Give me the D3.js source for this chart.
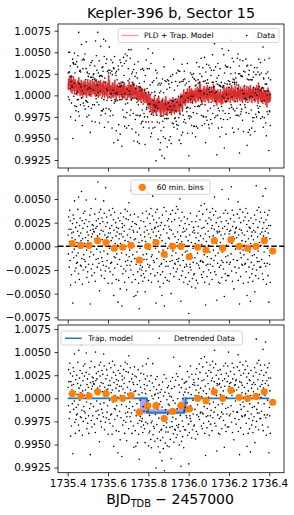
<!DOCTYPE html>
<html><head><meta charset="utf-8">
<script src="https://cdn.jsdelivr.net/npm/d3@7"></script>
<style>body{margin:0;background:#fff}svg{display:block}text{font-family:"DejaVu Sans",sans-serif;fill:#000}</style>
</head><body><svg id="c" width="294" height="515"></svg>
<script>
// ---- data (fluxes in units of 1e-4) ----
const t0 = 1735.402;          // first exposure (BJD_TDB - 2457000)
const cadenceDays = 2 / 1440; // 2-minute cadence
const residE4 = [
12,-8,31,18,-22,5,38,-15,27,-41,18,3,-30,14,9,-6,24,-60,33,15,-12,29,-3,48,-26,7,-38,20,-23,-10,
-18,25,4,-17,16,39,-7,-29,52,11,-35,22,-2,30,-20,14,6,-21,58,-13,27,-40,8,19,-25,35,-9,-14,24,3,
37,-16,9,-22,28,49,-4,-33,15,21,-27,6,12,-19,-38,26,2,-11,33,-61,17,-6,40,-24,10,-31,23,13,-19,18,
22,-9,16,15,-28,34,8,-37,50,19,-14,27,-3,21,-22,11,68,-13,29,4,-18,36,-47,13,24,-6,39,-25,17,-31,
-12,30,7,-16,26,16,-20,48,-5,35,-34,12,2,-26,62,21,-21,9,31,-15,25,-8,10,-39,14,5,-23,38,-2,19,
-27,14,-18,33,6,-17,22,-39,9,40,-30,-4,28,-52,17,-11,36,-23,3,-12,25,11,-35,20,-8,15,-19,1,-59,30,
19,-36,8,13,-14,27,-45,3,35,-21,13,-7,-63,24,20,-29,10,-3,31,-24,16,22,-38,6,39,-16,-26,29,-9,-46,
-20,37,12,-15,5,28,-33,46,-11,18,-4,-20,33,9,-25,59,-16,21,-38,2,26,-9,17,-30,15,-53,7,34,-13,24,
-35,8,-52,-19,23,-16,-6,15,-48,-27,31,-12,-39,4,-66,19,-24,-2,-20,12,27,-31,-17,-25,6,-22,35,-37,-9,-29,
26,-14,15,-33,10,-48,21,5,-26,37,-8,-14,17,30,-19,2,57,-36,13,-22,34,-3,-20,24,9,-29,40,-11,-38,18,
-9,32,53,-24,15,-15,28,7,-17,19,-31,20,-2,36,-60,11,25,-13,39,-28,4,21,-37,16,-6,30,-21,9,-43,22,
-30,12,-19,25,-18,-52,6,33,-27,-4,-39,18,-14,41,-63,-8,22,-33,3,-21,37,-16,-11,14,-36,27,-2,-21,9,29,
21,-37,8,18,-16,-29,34,3,-50,17,26,-10,-15,38,-5,13,-23,60,-32,1,28,-18,10,-19,35,-7,-27,42,-14,4,
-24,15,39,-16,7,-13,30,-35,22,50,-20,-3,11,-58,27,-31,5,36,-9,-26,15,-15,19,-38,2,31,-22,16,24,-6,
-33,10,-19,18,-21,-5,29,-40,-14,6,-28,-71,23,-37,12,-19,-22,35,-8,-25,4,-43,26,-12,-34,15,-2,-17,20,-30,
17,-29,14,-12,3,-44,26,9,-36,32,-18,62,-7,-39,14,21,-20,6,37,-23,-1,28,-16,11,-15,43,-30,2,19,-33,
-16,34,-17,8,-27,20,-9,45,-38,-3,13,-62,27,-20,5,39,-32,-11,24,-19,16,1,-25,30,-40,10,-6,36,-19,-28,
28,-13,19,6,-35,22,40,-21,11,-4,33,-15,18,52,-27,9,-10,37,-30,25,3,-57,16,14,-18,30,-7,-38,21,15,
-22,16,-39,31,4,-20,12,26,-15,-33,60,-6,19,-17,8,-24,35,-2,-53,21,13,-29,38,-11,-36,27,1,-17,18,-31,
35,-10,24,50,-31,13,-19,16,6,-17,29,17,-8,63,-26,3,38,-37,21,10,-14,33,-45,26,8,14,-22,15,-3,19,
-28,20,9,-15,34,-15,2,47,-36,12,-23,30,-61,18,39,-7,-32,25,-12,17,-19,6,14,-20,36,-4,-39,27,-9,1,
12,-19,31,-18,5,40,-27,-3,23,-52,16,35,-14,-38,8,27,-22,20,-33,-6,19,-58,3,30,-17,11,-29,15,-10,-24,
-37,24,7,17,-20,-9,33,-48,15,2,-31,28,64,-25,-12,38,-16,10,20,-5,-34,41,-16,4,26,-22,13,36,-22,1,
30,-14,15,8,-29,19,53,-35,11,25,-6,-18,36,3,16,61,-21,28,-40,9,19,-18,-2,33,-31,14,22,-59,38,-10,
-19,8,-38,22];
const pldE4 = [
14,6,19,9,17,22,12,23,7,16,4,13,21,8,2,15,18,10,5,22,11,7,17,1,14,19,9,16,5,12,
5,14,0,12,17,7,2,10,21,3,11,6,15,-1,9,13,4,18,1,10,14,5,-3,12,16,7,11,2,17,8,
11,0,9,16,3,13,-3,8,12,5,19,1,10,6,15,-1,7,12,2,18,4,14,-2,9,11,1,17,5,8,3,
2,15,9,4,17,0,11,6,13,-2,10,19,3,8,14,1,5,16,-3,12,7,4,15,9,-1,11,18,2,6,13,
9,2,15,-2,7,12,4,17,0,10,-3,8,13,5,1,16,6,-1,11,9,3,14,-4,8,12,24,7,18,0,10,
3,12,0,8,-4,11,6,1,15,-2,7,10,4,-3,14,2,9,18,-1,5,1,12,-6,8,11,3,13,0,7,4,
11,2,6,-3,9,14,0,7,3,16,-2,8,4,10,-5,12,5,1,13,-1,7,15,2,-4,9,6,0,11,4,8,
0,9,-5,6,12,3,-2,7,16,1,5,-3,10,2,8,-6,11,4,-1,13,1,6,-4,9,15,0,5,2,10,-2,
7,0,9,-4,3,12,-2,5,-6,4,8,1,-7,6,10,-5,0,11,-3,-7,3,-2,9,-6,1,5,-4,7,-1,-8,
3,-7,1,8,-4,-9,2,-2,-5,4,-8,0,-9,1,-6,-12,-3,5,-10,-16,-3,-7,1,-12,-8,-19,-3,-11,-6,-15,
-22,-17,-4,-14,-21,-8,-11,-18,-1,-15,-6,-20,-12,-7,-16,-23,-5,-10,-13,-3,-19,-9,-14,-17,-2,-16,-11,-6,-20,-10,
-25,-7,-22,-11,-6,-18,-12,-14,-3,-20,-9,-15,-23,-8,-10,-19,-5,-17,-13,-1,-21,-11,-16,-7,-24,-9,-14,-6,-18,-12,
-8,-15,-21,-9,-4,-19,-12,-16,-6,-23,-11,-7,-17,-14,-2,-20,-10,-18,-5,-13,-22,-9,-15,-7,-19,-11,-3,-16,-20,-12,
-15,-4,-10,-19,-8,-13,-2,-17,-7,-22,-2,-8,-13,2,-11,-15,-6,0,-9,-17,1,-8,-1,7,-10,-3,-6,3,-12,0,
1,-7,4,-4,2,-9,8,-4,0,-9,4,1,-7,10,-2,-5,7,-9,3,0,-5,8,-2,4,-10,6,1,-3,5,-6,
2,-7,5,-1,8,-4,-9,3,0,6,-3,10,-6,1,4,-7,8,-1,-4,10,16,-3,13,-6,4,0,7,-9,3,-2,
6,-2,-7,8,2,-4,11,-1,5,-8,4,7,0,-5,9,-3,3,12,-6,1,-2,6,-9,5,2,-1,10,-4,4,0,
-5,5,10,-2,2,-7,7,0,4,13,-4,3,-8,8,1,-6,3,-4,6,-9,1,-12,4,-1,-5,7,-8,0,2,-3,
4,-5,-9,0,7,-7,-2,-11,2,-4,-6,5,-10,-1,3,-4,12,-1,-8,5,1,8,-3,4,-9,6,0,10,-5,3,
-2,6,-7,2,10,-4,4,0,7,-9,3,8,-3,1,12,-5,5,-1,-6,9,-2,6,2,-8,7,-1,4,11,-4,1,
5,-5,3,0,9,-8,6,1,-3,13,-1,4,-6,7,2,-4,10,-2,-7,5,3,0,8,-9,4,6,-3,1,11,-5,
-1,8,-4,4,-8,2,7,-2,11,-6,3,0,6,-5,10,-3,1,9,-7,4,-1,12,-4,5,0,7,-9,3,8,-2,
7,-3,2,10,-6,4,-1,6,-8,1,9,-4,3,0,12,-6,4,-3,7,-10,15,1,-4,6,-2,9,-7,2,-5,4,
-4,7,-7,1,4,-10,3,-2,9,-6,0,-8,5,2,-3,6,-11,-3,-7,4,-14,-1,2,-6,9,-9,-2,-5,5,-8,
0,-7,3,-4];
// trapezoid transit model
const trapT = [1735.40, 1735.792, 1735.800, 1735.978, 1735.986, 1736.40];
const trapF = [1.0, 1.0, 0.99845, 0.99845, 1.0, 1.0];
// model uncertainty band
const bandT  = [1735.7585, 1735.796, 1735.808, 1735.957, 1735.970, 1735.993];
const bandHi = [1.00017, 1.00017, 0.99881, 0.99881, 1.00017, 1.00017];
const bandLo = [0.99840, 0.99827, 0.99827, 0.99827, 0.99827, 0.99840];
// 60-minute bins
const binT = [1735.4228,1735.4645,1735.5057,1735.5488,1735.5899,1735.6310,1735.6727,1735.7138,1735.7550,1735.7966,1735.8378,1735.8790,1735.9206,1735.9618,1736.0030,1736.0446,1736.0858,1736.1270,1736.1686,1736.2097,1736.2509,1736.2926,1736.3338,1736.3750,1736.4167];
const binResid = [0.0003,0.0001,0.0001,0.0006,0.0004,-0.0002,-0.0001,0.0001,-0.00145,0.0,0.0004,-0.00085,0.0,0.0,-0.0011,-0.0001,-0.0004,0.0006,-0.0002,0.0007,0.0,-0.0002,0.0,0.0006,-0.0005];
const binDetr = [1.0005,1.00025,1.00025,1.0007,1.0005,0.99995,1.0,1.0003,0.99848,0.99917,0.9992,0.9978,0.9986,0.9992,0.99884,1.0,0.99974,1.0007,1.0,1.00086,1.0001,1.0,1.0002,1.0007,0.99957];
// ticks
const xTicks = [1735.4,1735.6,1735.8,1736.0,1736.2,1736.4];
const fluxTicks = [1.0075,1.0050,1.0025,1.0000,0.9975,0.9950,0.9925];
const residTicks = [0.0050,0.0025,0.0000,-0.0025,-0.0050,-0.0075];

// ---- derived series ----
const times = residE4.map((_, i) => t0 + i * cadenceDays);
const resid = residE4.map(v => v * 1e-4);
const model = pldE4.map(v => 1 + v * 1e-4);
const flux = model.map((m, i) => m + resid[i]);
const trap = d3.scaleLinear().domain(trapT).range(trapF);
const detr = times.map((t, i) => trap(t) + resid[i]);

// ---- layout ----
const svg = d3.select('#c');
const L = 58, R = 284;
const x = d3.scaleLinear().domain([1735.3519, 1736.4729]).range([L, R]);
const panels = [
  {top: 24, bot: 168, y: d3.scaleLinear().domain([0.991572, 1.008277]).range([168, 24]), ticks: fluxTicks},
  {top: 176, bot: 320, y: d3.scaleLinear().domain([-0.007785, 0.007430]).range([320, 176]), ticks: residTicks},
  {top: 325, bot: 472.7, y: d3.scaleLinear().domain([0.991946, 1.007933]).range([472.7, 325]), ticks: fluxTicks}
];
const fmt = d3.format('.4f');
panels.forEach((p, k) => {
  svg.append('clipPath').attr('id', 'clip' + k).append('rect')
    .attr('x', L).attr('y', p.top).attr('width', R - L).attr('height', p.bot - p.top);
  p.g = svg.append('g').attr('clip-path', `url(#clip${k})`);
  const ya = svg.append('g').attr('transform', `translate(${L},0)`)
    .call(d3.axisLeft(p.y).tickValues(p.ticks).tickSize(3.5).tickPadding(3.5).tickFormat(fmt));
  ya.select('.domain').remove();
  ya.selectAll('line').attr('stroke', '#000').attr('stroke-width', 0.8);
  ya.selectAll('text').style('font-size', '10.5px').style('font-family', '"DejaVu Sans"');
  const xa = svg.append('g').attr('transform', `translate(0,${p.bot})`)
    .call(d3.axisBottom(x).tickValues(xTicks).tickSize(3.5).tickPadding(3.5)
      .tickFormat(k === 2 ? d3.format('.1f') : () => ''));
  xa.select('.domain').remove();
  xa.selectAll('line').attr('stroke', '#000').attr('stroke-width', 0.8);
  xa.selectAll('text').style('font-size', '10.5px').style('font-family', '"DejaVu Sans"');
});

const dotR = 0.8;
// panel 1: data + PLD model
{
  const p = panels[0];
  const line = d3.line().x((d, i) => x(times[i])).y(d => p.y(d));
  p.g.append('path').datum(model).attr('d', line).attr('fill', 'none')
    .attr('stroke', '#f08c8c').attr('stroke-opacity', 0.6).attr('stroke-width', 2.4);
  p.g.append('path').datum(model).attr('d', line).attr('fill', 'none')
    .attr('stroke', '#d62728').attr('stroke-opacity', 0.85).attr('stroke-width', 0.9);
  p.g.selectAll('circle.d').data(flux).enter().append('circle')
    .attr('cx', (d, i) => x(times[i])).attr('cy', d => p.y(d)).attr('r', dotR).attr('fill', '#000');
}
// panel 2: residuals
{
  const p = panels[1];
  p.g.selectAll('circle.d').data(resid).enter().append('circle')
    .attr('cx', (d, i) => x(times[i])).attr('cy', d => p.y(d)).attr('r', dotR).attr('fill', '#000');
  p.g.append('line').attr('x1', L).attr('x2', R).attr('y1', p.y(0)).attr('y2', p.y(0))
    .attr('stroke', '#000').attr('stroke-width', 1.5).attr('stroke-dasharray', '5.5,2.4');
  p.g.selectAll('circle.b').data(binResid).enter().append('circle')
    .attr('cx', (d, i) => x(binT[i])).attr('cy', d => p.y(d)).attr('r', 3.6).attr('fill', '#ff7f0e');
}
// panel 3: detrended
{
  const p = panels[2];
  p.g.append('path').datum(bandT)
    .attr('d', d3.area().x(d => x(d)).y0((d, i) => p.y(bandLo[i])).y1((d, i) => p.y(bandHi[i])))
    .attr('fill', '#6a6ae6').attr('fill-opacity', 0.6);
  p.g.append('path').datum(trapT)
    .attr('d', d3.line().x(d => x(d)).y((d, i) => p.y(trapF[i])))
    .attr('fill', 'none').attr('stroke', '#1f77b4').attr('stroke-width', 1.7);
  p.g.selectAll('circle.d').data(detr).enter().append('circle')
    .attr('cx', (d, i) => x(times[i])).attr('cy', d => p.y(d)).attr('r', dotR).attr('fill', '#000');
  p.g.selectAll('circle.b').data(binDetr).enter().append('circle')
    .attr('cx', (d, i) => x(binT[i])).attr('cy', d => p.y(d)).attr('r', 3.6).attr('fill', '#ff7f0e');
}
// frames
panels.forEach(p => {
  svg.append('rect').attr('x', L).attr('y', p.top).attr('width', R - L).attr('height', p.bot - p.top)
    .attr('fill', 'none').attr('stroke', '#000').attr('stroke-width', 0.8);
});

// legends
function legendBox(x0, y0, w, h) {
  svg.append('rect').attr('x', x0).attr('y', y0).attr('width', w).attr('height', h).attr('rx', 2)
    .attr('fill', '#fff').attr('fill-opacity', 0.8).attr('stroke', '#cccccc').attr('stroke-width', 0.8);
}
const lf = '7.6px';
legendBox(118, 28.5, 161, 14);
svg.append('line').attr('x1', 121.7).attr('x2', 138.3).attr('y1', 35.5).attr('y2', 35.5)
  .attr('stroke', '#f4a0a0').attr('stroke-width', 1.5);
svg.append('text').attr('x', 144).attr('y', 38.3).style('font-size', lf).text('PLD + Trap. Model');
svg.append('circle').attr('cx', 246.7).attr('cy', 35.5).attr('r', dotR).attr('fill', '#000');
svg.append('text').attr('x', 257).attr('y', 38.3).style('font-size', lf).text('Data');

legendBox(131, 180, 79, 14.3);
svg.append('circle').attr('cx', 142.3).attr('cy', 187.3).attr('r', 3.6).attr('fill', '#ff7f0e');
svg.append('text').attr('x', 156.7).attr('y', 190).style('font-size', lf).text('60 min. bins');

legendBox(61, 331, 181.3, 14);
svg.append('line').attr('x1', 65).attr('x2', 81.7).attr('y1', 338.3).attr('y2', 338.3)
  .attr('stroke', '#1f77b4').attr('stroke-width', 1.5);
svg.append('text').attr('x', 88.3).attr('y', 341).style('font-size', lf).text('Trap. model');
svg.append('circle').attr('cx', 159.3).attr('cy', 338.3).attr('r', dotR).attr('fill', '#000');
svg.append('text').attr('x', 174).attr('y', 341).style('font-size', lf).text('Detrended Data');

// title and x label
svg.append('text').attr('x', 171).attr('y', 18.3).attr('text-anchor', 'middle')
  .style('font-size', '14.3px').text('Kepler-396 b, Sector 15');
const xl = svg.append('text').attr('x', 170).attr('y', 504).attr('text-anchor', 'middle').style('font-size', '14px');
xl.append('tspan').text('BJD');
xl.append('tspan').attr('dy', 3).style('font-size', '9.8px').text('TDB');
xl.append('tspan').attr('dy', -3).text(' \u2212 2457000');
</script></body></html>
